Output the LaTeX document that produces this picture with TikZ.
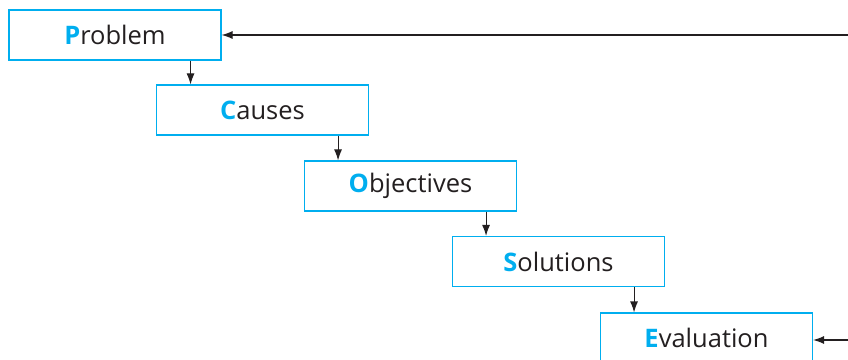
\documentclass[tikz,border=0pt]{standalone}
\usepackage{fontspec}
\setmainfont{Open Sans}
\usetikzlibrary{arrows.meta}
\definecolor{stepblue}{RGB}{0,174,239}
\definecolor{inkgray}{RGB}{35,31,32}
\begin{document}
\begin{tikzpicture}[x=1pt,y=1pt,
  stepbox/.style={draw=stepblue,line width=1.1pt,minimum width=212pt,minimum height=50pt,
    inner sep=0pt,text=inkgray,font=\fontsize{25.5}{30}\selectfont},
  flow/.style={draw=inkgray,line width=1.1pt,-{Latex[length=11pt,width=8pt]}}]
\useasboundingbox (0,0) rectangle (848,359);
\newcommand{\initial}[1]{\textcolor{stepblue}{\bfseries #1}}
\node[stepbox] (prob) at (115,324) {\initial{P}roblem};
\node[stepbox] (caus) at (262.5,249) {\initial{C}auses};
\node[stepbox] (obj) at (410.5,173) {\initial{O}bjectives};
\node[stepbox] (sol) at (558.5,97.5) {\initial{S}olutions};
\node[stepbox] (eval) at (706.5,21) {\initial{E}valuation};
% cascade arrows, dropped near the right end of each box
\foreach \a/\b in {prob/caus,caus/obj,obj/sol,sol/eval}{
  \draw[flow] ([xshift=-31pt]\a.south east) -- ([xshift=-31pt]\a.south east |- \b.north);
}
% feedback lines entering from the right edge
\coordinate (fbtop) at (848,324);
\coordinate (fbbot) at (848,19);
\draw[flow] (fbtop) -- (prob.east);
\draw[flow] (fbbot) -- (fbbot -| eval.east);
\end{tikzpicture}
\end{document}
